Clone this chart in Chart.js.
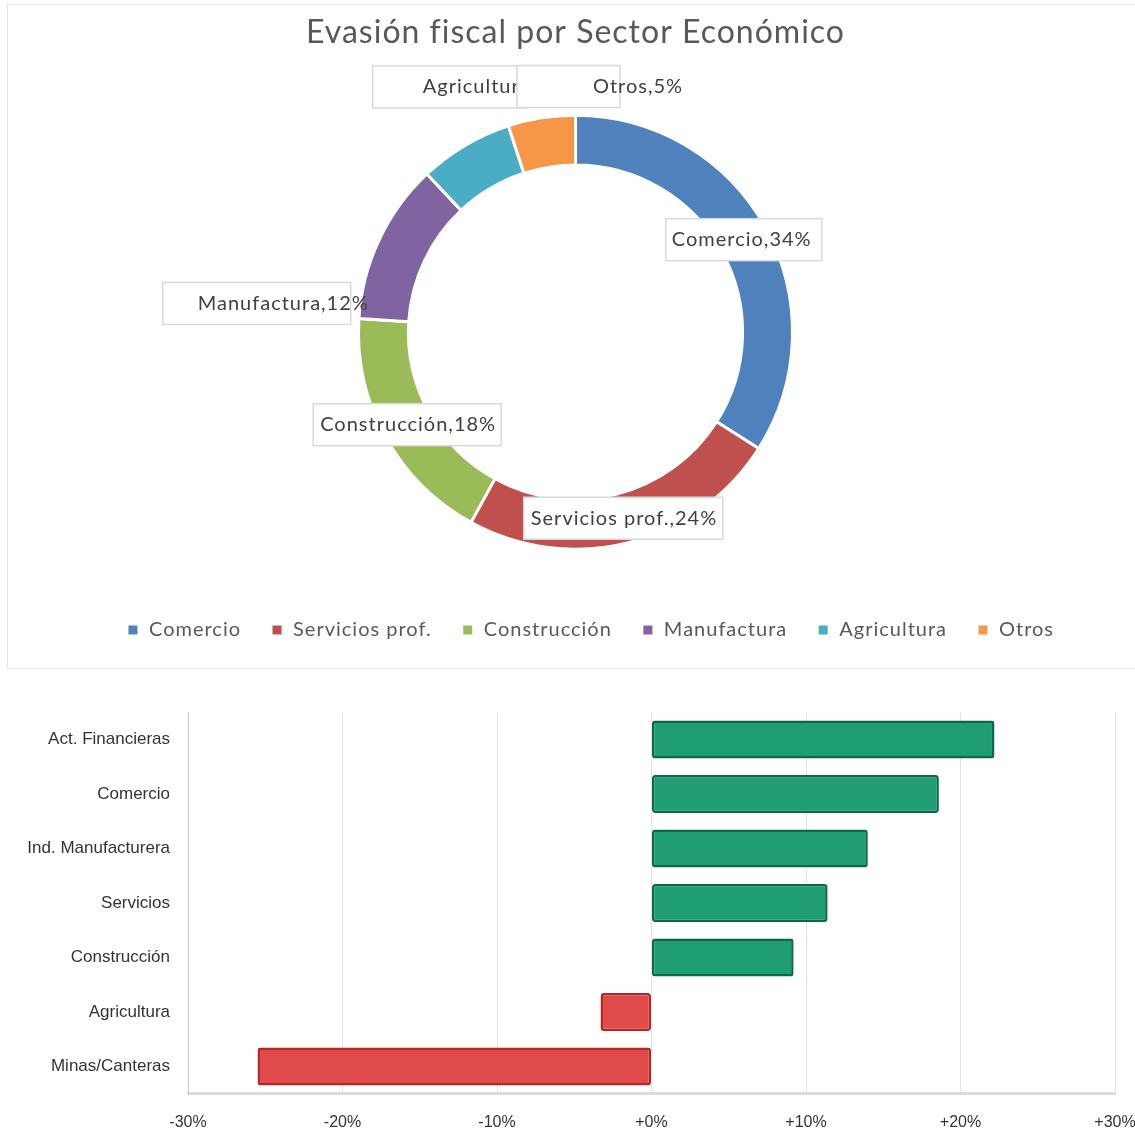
<!DOCTYPE html>
<html>
<head>
<meta charset="utf-8">
<script src="https://cdn.jsdelivr.net/npm/chart.js@4.4.1/dist/chart.umd.min.js"></script>
<style>
html, body { margin: 0; padding: 0; background: #fff; overflow: hidden; }
#top { position: absolute; left: 7px; top: 4px; width: 1128px; height: 663px; border: 1px solid #e3e3e3; border-right: none; }
#bottom { position: absolute; left: 0; top: 684px; width: 1135px; height: 467px; }
</style>
</head>
<body>
<div id="top"><canvas id="donutChart"></canvas></div>
<div id="bottom"><canvas id="barChart"></canvas></div>
<script>
// datos del anillo
const sectores = ['Comercio', 'Servicios prof.', 'Construcción', 'Manufactura', 'Agricultura', 'Otros'];
const participacion = [34, 24, 18, 12, 7, 5];
const coloresSector = ['#4f81bd', '#c0504d', '#9bbb59', '#8064a2', '#4bacc6', '#f79646'];

// datos de las barras
const actividades = ['Act. Financieras', 'Comercio', 'Ind. Manufacturera', 'Servicios', 'Construcción', 'Agricultura', 'Minas/Canteras'];
const variacion = [22.2, 18.6, 14.0, 11.4, 9.2, -3.3, -25.5];
const ticksX = ['-30%', '-20%', '-10%', '+0%', '+10%', '+20%', '+30%'];

// posicion de las cajas de etiqueta (desplazamiento desde el centro del sector)
const desplazamiento = [[0, 0], [0, 0], [0, 0], [-145, 53], [-28, -80], [23, -56]];
const anchoCaja = [156, 199, 188, 188, 154, 103];
const sangria = [6, 7, 7, 35, 50, 76];

// texto algo mas espaciado, como en el original
const espaciado = {
    id: 'espaciado',
    beforeLayout(chart) { chart.ctx.letterSpacing = '1px'; },
    beforeDraw(chart) { chart.ctx.letterSpacing = '1px'; },
    afterLayout(chart) {
        // la leyenda del original esta algo corrida a la derecha
        chart.legend.left += 15;
        chart.legend.right += 15;
    }
};

const etiquetasAnillo = {
    id: 'etiquetasAnillo',
    afterDatasetsDraw(chart) {
        const ctx = chart.ctx;
        const arcs = chart.getDatasetMeta(0).data;
        ctx.save();
        ctx.letterSpacing = '1px';
        ctx.font = '20px Lato';
        ctx.textBaseline = 'middle';
        ctx.textAlign = 'left';
        arcs.forEach((arc, i) => {
            const p = arc.getProps(['x', 'y', 'startAngle', 'endAngle', 'innerRadius', 'outerRadius'], true);
            const mid = (p.startAngle + p.endAngle) / 2;
            const r = (p.innerRadius + p.outerRadius) / 2;
            const cx = p.x + Math.cos(mid) * r + desplazamiento[i][0];
            const cy = p.y + Math.sin(mid) * r + desplazamiento[i][1];
            const w = anchoCaja[i], h = 42;
            const left = cx - w / 2;
            ctx.fillStyle = '#fff';
            ctx.fillRect(left, cy - h / 2, w, h);
            ctx.strokeStyle = '#d9d9d9';
            ctx.lineWidth = 1.5;
            ctx.strokeRect(left, cy - h / 2, w, h);
            ctx.fillStyle = '#404040';
            ctx.fillText(sectores[i] + ',' + participacion[i] + '%', left + sangria[i], cy);
        });
        ctx.restore();
    }
};

new Chart(document.getElementById('donutChart'), {
    type: 'doughnut',
    data: {
        labels: sectores,
        datasets: [{
            data: participacion,
            backgroundColor: coloresSector,
            borderColor: '#fff',
            borderWidth: 3,
            radius: 217,
            cutout: '77%',
        }],
    },
    options: {
        responsive: true,
        maintainAspectRatio: false,
        animation: false,
        layout: { padding: { top: 0, bottom: 18, left: 7 } },
        plugins: {
            title: {
                display: true,
                text: 'Evasión fiscal por Sector Económico',
                color: '#595959',
                font: { family: 'Lato', size: 32, weight: 'normal' },
                padding: { top: 8, bottom: 23 },
            },
            legend: {
                position: 'bottom',
                labels: {
                    color: '#595959',
                    font: { family: 'Lato', size: 20 },
                    boxWidth: 12,
                    boxHeight: 12,
                    padding: 30,
                },
            },
            tooltip: { enabled: false },
        },
    },
    plugins: [espaciado, etiquetasAnillo],
});

new Chart(document.getElementById('barChart'), {
    type: 'bar',
    data: {
        labels: actividades,
        datasets: [{
            data: variacion,
            backgroundColor: variacion.map(v => v >= 0 ? '#1f9e74' : '#e04a4a'),
            borderColor: variacion.map(v => v >= 0 ? '#0b6a45' : '#b02828'),
            borderWidth: 2.5,
            borderRadius: 3,
            borderSkipped: false,
            barPercentage: 0.7,
            categoryPercentage: 1,
        }],
    },
    options: {
        indexAxis: 'y',
        responsive: true,
        maintainAspectRatio: false,
        animation: false,
        layout: { padding: { top: 11, right: 20, bottom: 0 } },
        plugins: { legend: { display: false }, tooltip: { enabled: false } },
        scales: {
            x: {
                min: -30,
                max: 30,
                ticks: {
                    stepSize: 10,
                    color: '#333',
                    font: { family: 'Liberation Sans', size: 16 },
                    padding: 19,
                    callback: (v, i) => ticksX[i],
                },
                grid: { color: '#e3e3e3', drawTicks: false },
                border: { color: '#dcdcdc', width: 3 },
                afterFit: (scale) => { scale.paddingLeft = 0; scale.paddingRight = 0; },
            },
            y: {
                ticks: {
                    color: '#333',
                    font: { family: 'Liberation Sans', size: 17 },
                    padding: 18,
                },
                grid: { display: false, drawTicks: false },
                border: { color: '#c8c8c8', width: 1 },
                afterFit: (scale) => { scale.width = 188; },
            },
        },
    },
});
</script>
</body>
</html>
